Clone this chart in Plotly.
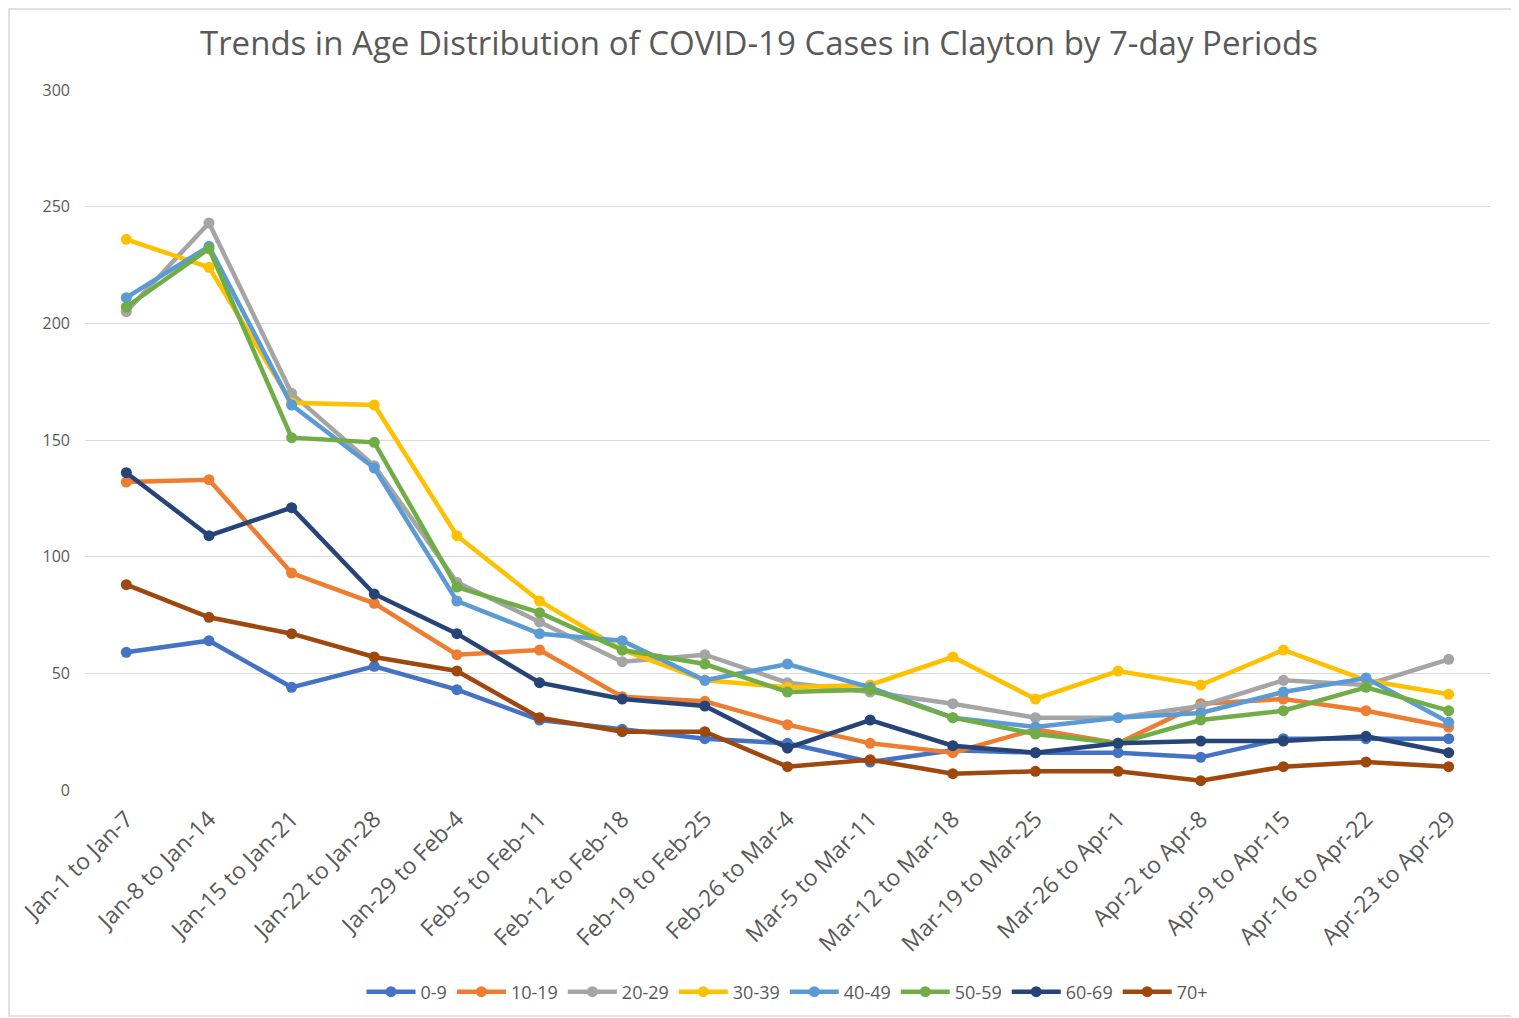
import plotly.graph_objects as go

categories = ["Jan-1 to Jan-7", "Jan-8 to Jan-14", "Jan-15 to Jan-21", "Jan-22 to Jan-28",
              "Jan-29 to Feb-4", "Feb-5 to Feb-11", "Feb-12 to Feb-18", "Feb-19 to Feb-25",
              "Feb-26 to Mar-4", "Mar-5 to Mar-11", "Mar-12 to Mar-18", "Mar-19 to Mar-25",
              "Mar-26 to Apr-1", "Apr-2 to Apr-8", "Apr-9 to Apr-15", "Apr-16 to Apr-22",
              "Apr-23 to Apr-29"]

age_0_9 = [59, 64, 44, 53, 43, 30, 26, 22, 20, 12, 17, 16, 16, 14, 22, 22, 22]
age_10_19 = [132, 133, 93, 80, 58, 60, 40, 38, 28, 20, 16, 26, 20, 37, 39, 34, 27]
age_20_29 = [205, 243, 170, 139, 89, 72, 55, 58, 46, 42, 37, 31, 31, 36, 47, 45, 56]
age_30_39 = [236, 224, 166, 165, 109, 81, 60, 47, 44, 45, 57, 39, 51, 45, 60, 47, 41]
age_40_49 = [211, 233, 165, 138, 81, 67, 64, 47, 54, 44, 31, 27, 31, 33, 42, 48, 29]
age_50_59 = [207, 232, 151, 149, 87, 76, 60, 54, 42, 43, 31, 24, 20, 30, 34, 44, 34]
age_60_69 = [136, 109, 121, 84, 67, 46, 39, 36, 18, 30, 19, 16, 20, 21, 21, 23, 16]
age_70_plus = [88, 74, 67, 57, 51, 31, 25, 25, 10, 13, 7, 8, 8, 4, 10, 12, 10]

series_names = ["0-9", "10-19", "20-29", "30-39", "40-49", "50-59", "60-69", "70+"]
series_values = [age_0_9, age_10_19, age_20_29, age_30_39, age_40_49, age_50_59, age_60_69, age_70_plus]
colors = ["#4472C4", "#ED7D31", "#A5A5A5", "#FFC000", "#5B9BD5", "#70AD47", "#264478", "#9E480E"]

y_ticks = [0, 50, 100, 150, 200, 250, 300]

fig = go.Figure()
for name, vals, col in zip(series_names, series_values, colors):
    fig.add_trace(go.Scatter(
        x=categories, y=vals, name=name, mode="lines+markers",
        line=dict(color=col, width=4.5),
        marker=dict(color=col, size=11),
    ))

font_family = "Open Sans, Liberation Sans, sans-serif"
fig.update_layout(
    width=1511, height=1010,
    paper_bgcolor="white", plot_bgcolor="white",
    margin=dict(l=77, r=29, t=82, b=228, autoexpand=False),
    title=dict(text="Trends in Age Distribution of COVID-19 Cases in Clayton by 7-day Periods",
               x=751 / 1511, xanchor="center", xref="container", y=1 - 35 / 1010, yanchor="middle",
               font=dict(family=font_family, size=33, color="#595959")),
    xaxis=dict(type="category", tickangle=-45, showgrid=False, showline=False,
               tickfont=dict(family=font_family, size=23, color="#595959"),
               ticks="", range=[-0.5, 16.5], ticklabelstandoff=10),
    yaxis=dict(range=[0, 300], tickvals=y_ticks, showgrid=True, gridcolor="#D9D9D9", gridwidth=1.3,
               zeroline=False, showline=False, ticks="",
               tickfont=dict(family=font_family, size=16, color="#595959"),
               ticklabelstandoff=14),
    legend=dict(orientation="h", x=0.5, xanchor="center", y=-0.2886, yanchor="middle",
                font=dict(family=font_family, size=18, color="#595959"),
                bgcolor="rgba(0,0,0,0)", tracegroupgap=0, itemwidth=49),
    showlegend=True,
)

fig.add_shape(type="rect", xref="paper", yref="paper",
              x0=-76 / 1405, x1=1 + 23 / 1405, y0=-226 / 700, y1=1 + 81 / 700,
              line=dict(color="#D9D9D9", width=1.5), fillcolor="rgba(0,0,0,0)", layer="below")

fig.write_html("out.html")
